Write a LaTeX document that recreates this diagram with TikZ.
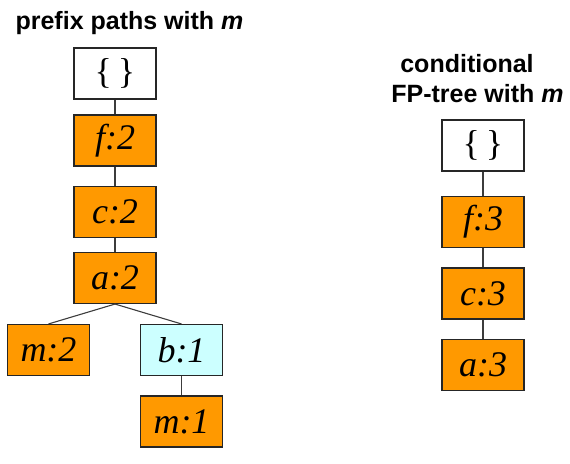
\documentclass[tikz,border=0pt]{standalone}
\usepackage{fontspec}
\setmainfont{Liberation Serif}
\setsansfont{Liberation Sans}
\definecolor{boxorange}{RGB}{255,153,0}
\definecolor{boxcyan}{RGB}{204,255,255}
\definecolor{edgegray}{RGB}{60,60,60}
\tikzset{
  tbox/.style={draw=black!85, line width=1.1pt, minimum width=82pt, minimum height=51pt, inner sep=0pt,
    font=\fontsize{36}{38}\selectfont\itshape},
  obox/.style={tbox, fill=boxorange},
  cbox/.style={tbox, fill=boxcyan},
  wbox/.style={tbox, fill=white, font=\fontsize{36}{38}\selectfont\upshape},
  link/.style={draw=edgegray, line width=1.1pt},
  ttl/.style={font=\sffamily\bfseries\fontsize{25}{28}\selectfont, anchor=base, inner sep=0pt}
}
\begin{document}
\begin{tikzpicture}[x=1pt,y=-1pt]
\useasboundingbox (0,0) rectangle (570,463);
\node[ttl] (t1) at (129.5,29) {prefix paths with \textit{m}};
\node[ttl] (t2) at (467,72) {conditional};
\node[ttl] (t3) at (477.5,102) {FP-tree with \textit{m}};

\node[wbox] (r1) at (115,73.5) {\{\,\}};
\node[obox] (f2) at (115,140.5) {f:2};
\node[obox] (c2) at (115,212) {c:2};
\node[obox] (a2) at (115,278) {a:2};
\node[obox] (m2) at (48.5,350) {m:2};
\node[cbox] (b1) at (181.5,350) {b:1};
\node[obox] (m1) at (181.5,421.5) {m:1};

\node[wbox] (r2) at (483,145.5) {\{\,\}};
\node[obox] (f3) at (483,222) {f:3};
\node[obox] (c3) at (483,293.5) {c:3};
\node[obox] (a3) at (483,365) {a:3};

\draw[link] (r1) -- (f2);
\draw[link] (f2) -- (c2);
\draw[link] (c2) -- (a2);
\draw[link] (a2.south) -- (m2.north);
\draw[link] (a2.south) -- (b1.north);
\draw[link] (b1) -- (m1);
\draw[link] (r2) -- (f3);
\draw[link] (f3) -- (c3);
\draw[link] (c3) -- (a3);
\end{tikzpicture}
\end{document}
